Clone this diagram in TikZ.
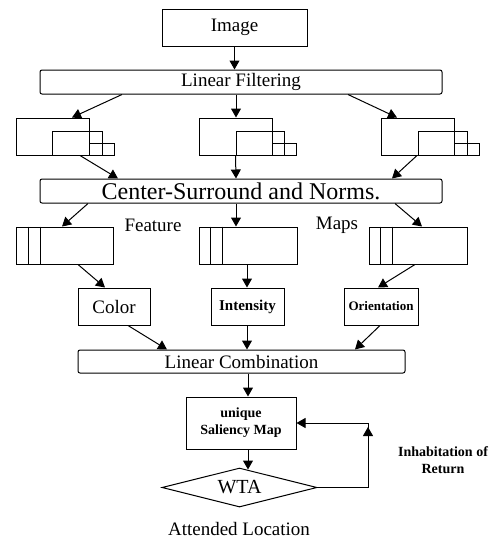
\documentclass[tikz,border=0pt]{standalone}
\usepackage{fontspec}
\setmainfont{Liberation Serif}
\usetikzlibrary{shapes.geometric,arrows.meta}
\begin{document}
\begin{tikzpicture}[x=1pt,y=-1pt,
  box/.style={draw,line width=1pt,inner sep=0pt,align=center},
  bar/.style={box,rounded corners=2pt},
  arr/.style={line width=1pt,-{Triangle[length=9pt,width=10pt]}},
  ln/.style={line width=1pt},
  lbl/.style={font=\fontsize{19}{22}\selectfont},
  small/.style={font=\bfseries\fontsize{14}{17}\selectfont}]
\useasboundingbox (0,0) rectangle (495,539);
% top
\node[box,lbl,minimum width=145pt,minimum height=37pt] (img) at (234.5,27.5) {Image};
\node[bar,lbl,minimum width=402pt,minimum height=24pt] (lf) at (241,82) {Linear Filtering};
% pyramids
\node[box,minimum width=73pt,minimum height=37pt] (L1) at (52.5,136.5) {};
\node[box,minimum width=50pt,minimum height=24pt] (L2) at (77,143) {};
\node[box,minimum width=25pt,minimum height=12pt] (L3) at (101.5,149) {};
\node[box,minimum width=73pt,minimum height=37pt] (M1) at (235.5,136.5) {};
\node[box,minimum width=48pt,minimum height=24pt] (M2) at (260,143) {};
\node[box,minimum width=24pt,minimum height=12pt] (M3) at (284,149) {};
\node[box,minimum width=73pt,minimum height=37pt] (R1) at (417.5,136.5) {};
\node[box,minimum width=49pt,minimum height=24pt] (R2) at (442.5,143) {};
\node[box,minimum width=25pt,minimum height=12pt] (R3) at (466.5,149) {};
% center surround
\node[bar,font=\fontsize{24}{26}\selectfont,minimum width=402pt,minimum height=24pt] (cs) at (241,191) {Center-Surround and Norms.};
% feature maps
\node[box,minimum width=97pt,minimum height=37pt] (FL) at (64.5,245.5) {};
\node[box,minimum width=98pt,minimum height=37pt] (FM) at (248,245.5) {};
\node[box,minimum width=98pt,minimum height=37pt] (FR) at (418,245.5) {};
\foreach \n/\a/\b in {FL/13/25,FM/12/24,FR/12/24}{
  \draw[ln] ([xshift=\a pt]\n.north west) -- ([xshift=\a pt]\n.south west);
  \draw[ln] ([xshift=\b pt]\n.north west) -- ([xshift=\b pt]\n.south west);
}
\node[lbl] (feat) at (153,225) {Feature};
\node[lbl] (maps) at (337,225) {Maps};
% conspicuity
\node[box,lbl,minimum width=72pt,minimum height=37pt] (col) at (114,306.5) {Color};
\node[box,font=\bfseries\fontsize{15}{17}\selectfont,minimum width=73pt,minimum height=37pt] (int) at (247.5,306.5) {Intensity};
\node[box,font=\bfseries\fontsize{13}{15}\selectfont,minimum width=74pt,minimum height=37pt] (ori) at (381,306.5) {Orientation};
% combination
\node[bar,lbl,minimum width=327pt,minimum height=23pt] (lc) at (241.5,361.5) {Linear Combination};
\node[box,small,minimum width=110pt,minimum height=52pt] (sal) at (241,423) {unique\\Saliency Map};
\node[draw,line width=1pt,diamond,inner sep=0pt,aspect=4,minimum width=155pt,minimum height=39pt,font=\fontsize{20}{22}\selectfont] (wta) at (239.5,487.5) {WTA};
\node[small,align=center] (ior) at (443,460) {Inhabitation of\\Return};
\node[lbl,anchor=base,inner sep=0pt,text depth=0pt] (att) at (239,535) {Attended Location};
% arrows
\draw[arr] (img.south) -- (img.south |- lf.north);
\draw[arr] ([xshift=-119pt]lf.south) -- ([xshift=19.5pt]L1.north);
\draw[arr] ([xshift=-5pt]lf.south) -- ([xshift=0.5pt]M1.north);
\draw[arr] ([xshift=107pt]lf.south) -- ([xshift=-20.5pt]R1.north);
\draw[arr] ([xshift=27.5pt]L1.south) -- ([xshift=-123pt]cs.north);
\draw[arr] (M2.south west) -- ([xshift=-5pt]cs.north);
\draw[arr] ([xshift=-0.5pt]R1.south) -- ([xshift=151pt]cs.north);
\draw[arr] ([xshift=-153pt]cs.south) -- ([xshift=-2.5pt]FL.north);
\draw[arr] ([xshift=-5pt]cs.south) -- ([xshift=-12pt]FM.north);
\draw[arr] ([xshift=154pt]cs.south) -- ([xshift=4pt]FR.north);
\draw[arr] ([xshift=13.5pt]FL.south) -- ([xshift=-9pt]col.north);
\draw[arr] ([xshift=-1pt]FM.south) -- ([xshift=-0.5pt]int.north);
\draw[arr] ([xshift=-3pt]FR.south) -- ([xshift=-3pt]ori.north);
\draw[arr] ([xshift=14pt]col.south) -- ([xshift=-74.5pt]lc.north);
\draw[arr] ([xshift=-0.5pt]int.south) -- ([xshift=5.5pt]lc.north);
\draw[arr] ([xshift=-1pt]ori.south) -- ([xshift=113.5pt]lc.north);
\draw[arr] ([xshift=6.5pt]lc.south) -- ([xshift=7pt]sal.north);
\draw[arr] ([xshift=7pt]sal.south) -- ([xshift=8.5pt,yshift=-2pt]wta.north);
% feedback
\coordinate (fb1) at (368,487.5);
\coordinate (fbm) at (368,427);
\coordinate (fb2) at (368,423);
\draw[ln] (wta.east) -- (fb1) -- (fb2);
\draw[arr] (fb1) -- (fbm);
\draw[arr] (fb2) -- (sal.east);
\end{tikzpicture}
\end{document}
